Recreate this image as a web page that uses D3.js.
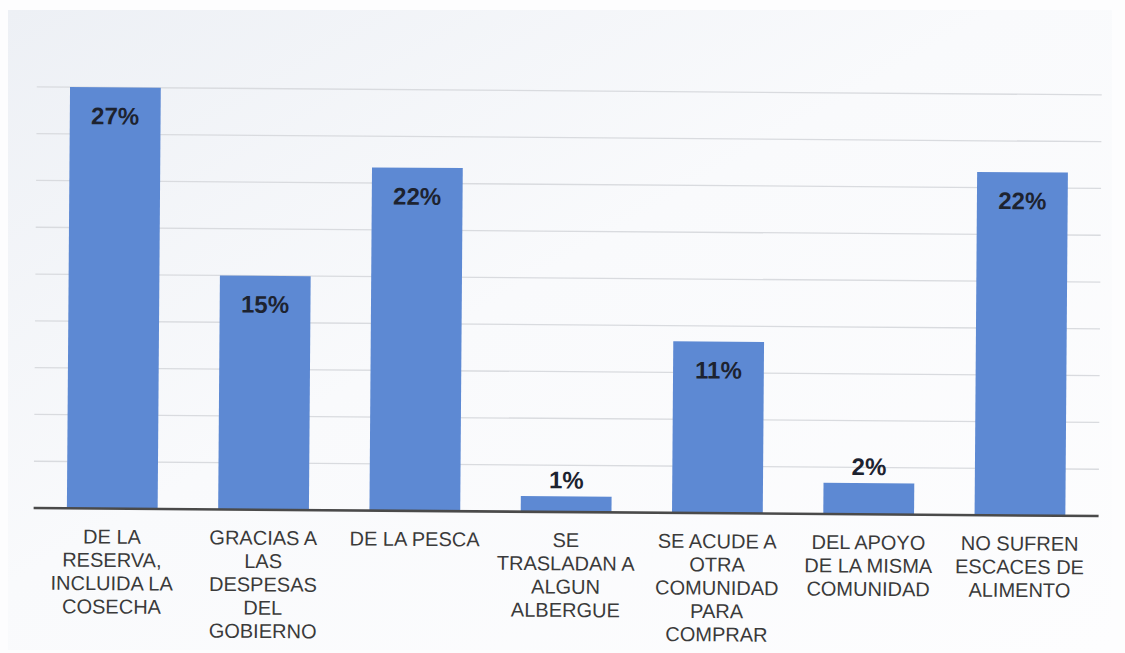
<!DOCTYPE html>
<html><head><meta charset="utf-8">
<script src="https://cdn.jsdelivr.net/npm/d3@7"></script>
<style>html,body{margin:0;padding:0;background:#fdfdfe;} svg{display:block}</style>
</head><body>
<svg id="chart" width="1125" height="653"></svg>
<script>
// ---- data ----
const categories = [
  ["DE LA", "RESERVA,", "INCLUIDA LA", "COSECHA"],
  ["GRACIAS A", "LAS", "DESPESAS", "DEL", "GOBIERNO"],
  ["DE LA PESCA"],
  ["SE", "TRASLADAN A", "ALGUN", "ALBERGUE"],
  ["SE ACUDE A", "OTRA", "COMUNIDAD", "PARA", "COMPRAR"],
  ["DEL APOYO", "DE LA MISMA", "COMUNIDAD"],
  ["NO SUFREN", "ESCACES DE", "ALIMENTO"]
];
const values = [27, 15, 22, 1, 11, 2, 22];
const gridTicks = [3, 6, 9, 12, 15, 18, 21, 24, 27];

// ---- layout ----
const W = 1125, H = 653;
const base = 512;
const svg = d3.select("#chart");

const defs = svg.append("defs");
const grad = defs.append("linearGradient").attr("id","bg").attr("x1","0").attr("y1","0").attr("x2","1").attr("y2","1");
grad.append("stop").attr("offset","0").attr("stop-color","#edf0f5");
grad.append("stop").attr("offset","0.45").attr("stop-color","#f9fafc");
grad.append("stop").attr("offset","1").attr("stop-color","#fdfdfe");
svg.append("rect").attr("x",8).attr("y",10).attr("width",1104).attr("height",640).attr("fill","url(#bg)");

const g = svg.append("g").attr("transform", "rotate(0.43, 560, 326)");

const x = d3.scaleBand().domain(d3.range(values.length)).range([38, 1097]).paddingInner(0.4).paddingOuter(0.2);
const y = d3.scaleLinear().domain([0, 30]).range([base, base - 30 * 15.6]);

// gridlines
g.append("g").selectAll("line").data(gridTicks).join("line")
  .attr("x1", 35).attr("x2", 1100)
  .attr("y1", d => y(d)).attr("y2", d => y(d))
  .attr("stroke", "#d9dbdf").attr("stroke-width", 1.3);

// bars
g.append("g").selectAll("rect").data(values).join("rect")
  .attr("x", (d, i) => x(i)).attr("width", x.bandwidth())
  .attr("y", d => y(d)).attr("height", d => y(0) - y(d))
  .attr("fill", "#5d89d3");

// baseline axis
const xAxis = d3.axisBottom(x).tickSize(0).tickFormat("");
const ax = g.append("g").attr("transform", `translate(0,${base})`).call(xAxis);
ax.select(".domain").attr("d", "M35,0H1100").attr("stroke", "#4a4a4a").attr("stroke-width", 2.6);

// value labels
g.append("g").selectAll("text").data(values).join("text")
  .attr("x", (d, i) => x(i) + x.bandwidth() / 2)
  .attr("y", d => d >= 5 ? y(d) + 37 : y(d) - 8)
  .attr("text-anchor", "middle")
  .attr("font-family", "Liberation Sans, Arial, sans-serif")
  .attr("font-weight", "bold").attr("font-size", 24)
  .attr("fill", "#1d2330")
  .text(d => d + "%");

// category labels
const cl = g.append("g").selectAll("text").data(categories).join("text")
  .attr("text-anchor", "middle")
  .attr("font-family", "Liberation Sans, Arial, sans-serif")
  .attr("font-size", 20).attr("fill", "#3a3a3a");
cl.each(function(lines, i) {
  const t = d3.select(this);
  lines.forEach((ln, k) => {
    t.append("tspan").attr("x", x(i) + x.bandwidth() / 2).attr("y", 547 + k * 23.3).text(ln);
  });
});
</script>
</body></html>
